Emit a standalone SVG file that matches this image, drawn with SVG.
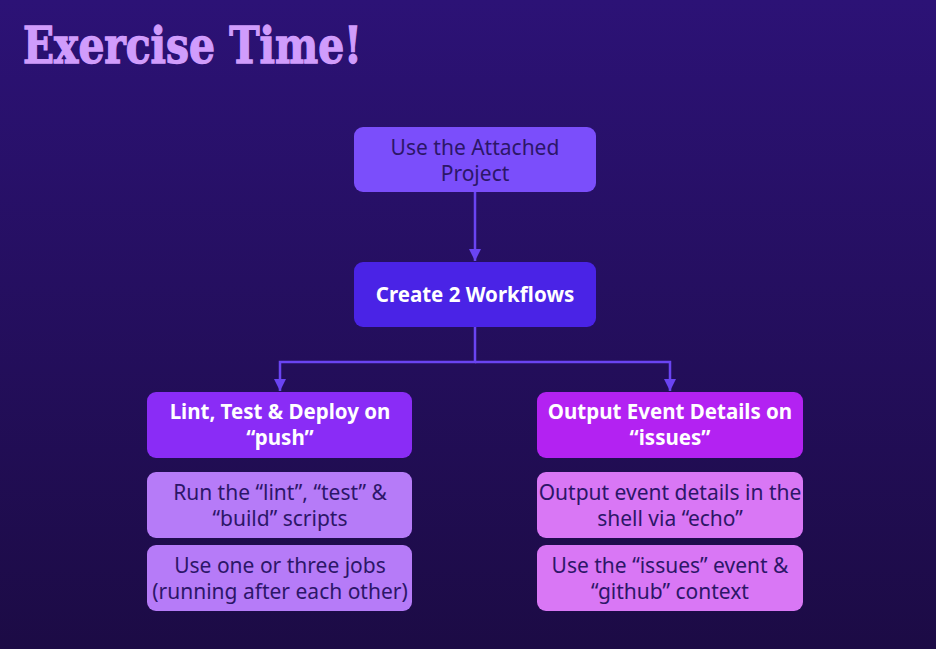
<svg xmlns="http://www.w3.org/2000/svg" width="936" height="649" viewBox="0 0 936 649">
<defs>
<linearGradient id="bg" x1="0" y1="0" x2="0" y2="1">
<stop offset="0" stop-color="#2c1276"/>
<stop offset="1" stop-color="#1c0b45"/>
</linearGradient>
<marker id="arrow" viewBox="0 0 12 12" refX="12" refY="6" markerWidth="12" markerHeight="12" orient="auto" markerUnits="userSpaceOnUse">
<path d="M0,0 L12,6 L0,12 z" fill="#6a44f2"/>
</marker>
</defs>
<style>
.t{font-family:"Noto Sans","Lato",sans-serif;font-size:21px;text-anchor:middle}
.dark{fill:#2c1668}
.wb{fill:#ffffff;font-weight:bold;font-size:20.5px}
.conn{fill:none;stroke:#6a44f2;stroke-width:2.5}
</style>
<rect width="936" height="649" fill="url(#bg)"/>
<text x="23" y="63" font-family="'DejaVu Serif','Liberation Serif',serif" font-weight="bold" font-size="50" fill="#d09cfc" stroke="#d09cfc" stroke-width="1.4" textLength="339" lengthAdjust="spacingAndGlyphs">Exercise Time!</text>
<g id="connectors">
<path class="conn" d="M475,192 V261" marker-end="url(#arrow)"/>
<path class="conn" d="M475,327 V362 H280 V391" marker-end="url(#arrow)"/>
<path class="conn" d="M475,362 H670 V391" marker-end="url(#arrow)"/>
</g>
<g id="n1">
<rect x="354" y="127" width="242" height="65" rx="9" fill="#7b4efb"/>
<text class="t dark" x="475" y="155">Use the Attached</text>
<text class="t dark" x="475" y="181">Project</text>
</g>
<g id="n2">
<rect x="354" y="262" width="242" height="65" rx="9" fill="#4a23e6"/>
<text class="t wb" x="475" y="302">Create 2 Workflows</text>
</g>
<g id="n3">
<rect x="147" y="392" width="265" height="66" rx="9" fill="#8a2cf6"/>
<text class="t wb" x="280" y="419">Lint, Test &amp; Deploy on</text>
<text class="t wb" x="280" y="445">“push”</text>
</g>
<g id="n4">
<rect x="537" y="392" width="266" height="66" rx="9" fill="#b322f2"/>
<text class="t wb" x="670" y="419">Output Event Details on</text>
<text class="t wb" x="670" y="445">“issues”</text>
</g>
<g id="n5">
<rect x="147" y="472" width="265" height="66" rx="9" fill="#b67bf8"/>
<text class="t dark" x="280" y="500">Run the “lint”, “test” &amp;</text>
<text class="t dark" x="280" y="526">“build” scripts</text>
</g>
<g id="n6">
<rect x="147" y="545" width="265" height="66" rx="9" fill="#b67bf8"/>
<text class="t dark" x="280" y="573">Use one or three jobs</text>
<text class="t dark" x="280" y="599">(running after each other)</text>
</g>
<g id="n7">
<rect x="537" y="472" width="266" height="66" rx="9" fill="#d977f5"/>
<text class="t dark" x="670" y="500">Output event details in the</text>
<text class="t dark" x="670" y="526">shell via “echo”</text>
</g>
<g id="n8">
<rect x="537" y="545" width="266" height="66" rx="9" fill="#d977f5"/>
<text class="t dark" x="670" y="573">Use the “issues” event &amp;</text>
<text class="t dark" x="670" y="599">“github” context</text>
</g>
</svg>
